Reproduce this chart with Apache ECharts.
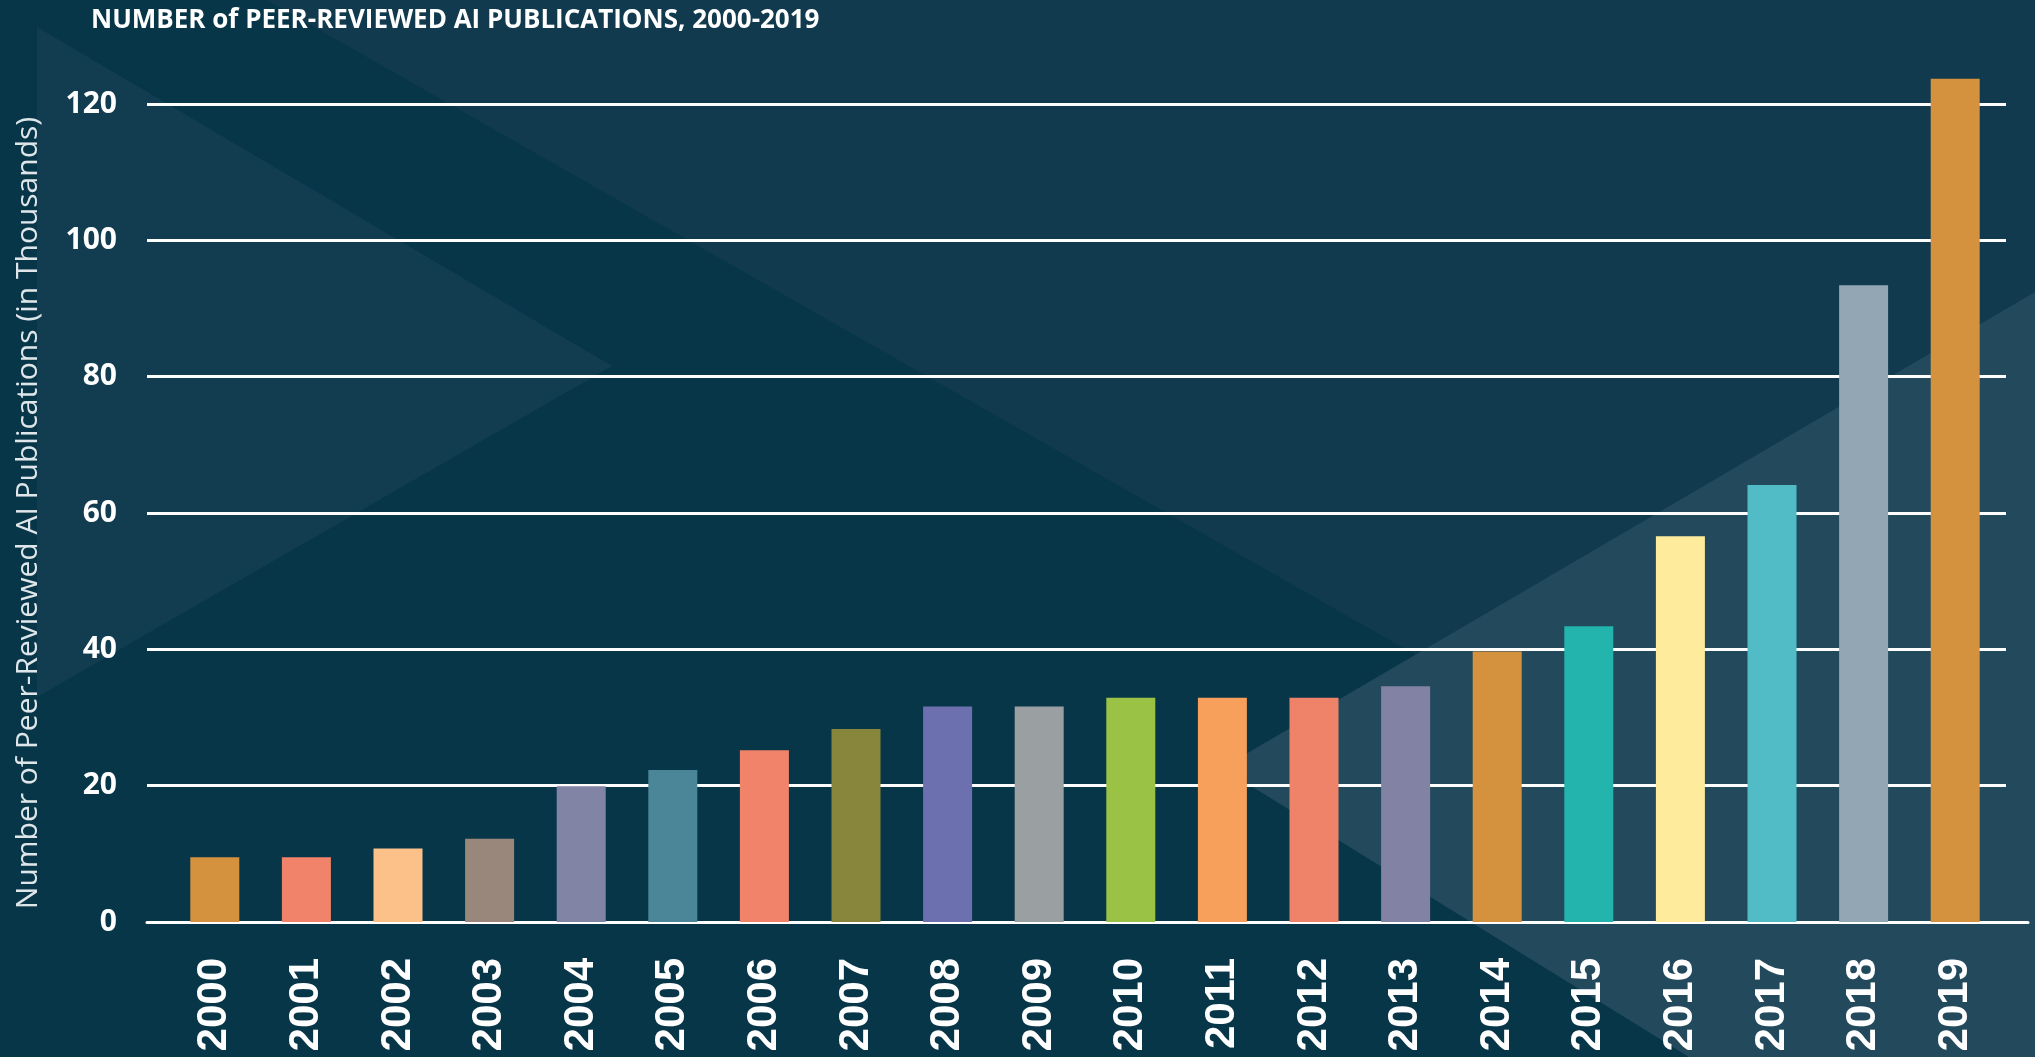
<!DOCTYPE html>
<html>
<head>
<meta charset="utf-8">
<script src="https://cdn.jsdelivr.net/npm/echarts@6/dist/echarts.min.js"></script>
<style>
  html, body { margin: 0; padding: 0; background: #083649; }
  #chart { width: 2035px; height: 1057px; }
</style>
</head>
<body>
<div id="chart"></div>
<script>
const years = ['2000', '2001', '2002', '2003', '2004', '2005', '2006', '2007', '2008', '2009',
  '2010', '2011', '2012', '2013', '2014', '2015', '2016', '2017', '2018', '2019'];
// thousands of publications
const publications = [9.5, 9.5, 10.8, 12.2, 19.9, 22.3, 25.2, 28.3, 31.6, 31.6,
  32.9, 32.9, 32.9, 34.6, 39.7, 43.4, 56.6, 64.1, 93.4, 123.7];
const barColors = ['#d4923f', '#f0836a', '#fcc089', '#9a877c', '#8284a6', '#4a8598', '#f0836a',
  '#88863c', '#6c70ae', '#9a9fa1', '#9ac245', '#f6a05c', '#ef836a', '#8283a4', '#d4923f',
  '#23b4ad', '#feeb9c', '#52bcc6', '#93a6b4', '#d4923f'];
const yTicks = [0, 20, 40, 60, 80, 100, 120];

const chart = echarts.init(document.getElementById('chart'));

const option = {
  backgroundColor: '#083649',
  animation: false,
  title: {
    text: 'NUMBER of PEER-REVIEWED AI PUBLICATIONS, 2000-2019',
    left: 86,
    top: 3,
    textStyle: {
      color: '#fff',
      fontFamily: 'Open Sans',
      fontWeight: 'bold',
      fontSize: 26
    }
  },
  // background shapes
  graphic: [
    { type: 'polygon', z: -10, silent: true,
      shape: { points: [[267, 0], [2035, 0], [2035, 1008]] },
      style: { fill: '#113a4e' } },
    { type: 'polygon', z: -10, silent: true,
      shape: { points: [[37, 27], [612, 366], [37, 697]] },
      style: { fill: '#123d51' } },
    { type: 'polygon', z: -9, silent: true,
      shape: { points: [[1222, 768], [2035, 292], [2035, 1057], [1689, 1057]] },
      style: { fill: '#224a5c' } }
  ],
  grid: [
    // bars
    { left: 169, right: 34, top: 104, bottom: 135, outerBoundsMode: 'none' },
    // grid lines + y labels
    { left: 147, right: 29, top: 104, bottom: 135, outerBoundsMode: 'none' },
    // baseline
    { left: 147, right: 7, top: 104, bottom: 135, outerBoundsMode: 'none' }
  ],
  xAxis: [
    {
      gridIndex: 0,
      type: 'category',
      data: years,
      axisLine: { show: false },
      axisTick: { show: false },
      axisLabel: {
        rotate: 90,
        margin: 36,
        color: '#fff',
        fontFamily: 'Liberation Sans',
        fontWeight: 'bold',
        fontSize: 42
      }
    },
    { gridIndex: 1, type: 'category', data: years, show: false },
    {
      gridIndex: 2,
      type: 'category',
      data: years,
      axisLine: { show: true, lineStyle: { color: '#fff', width: 3 } },
      axisTick: { show: false },
      axisLabel: { show: false }
    }
  ],
  yAxis: [
    { gridIndex: 0, type: 'value', min: 0, max: 120, interval: 20, show: false },
    {
      gridIndex: 1,
      type: 'value',
      min: yTicks[0],
      max: yTicks[yTicks.length - 1],
      interval: 20,
      z: 1,
      name: 'Number of Peer-Reviewed AI Publications (in Thousands)',
      nameLocation: 'middle',
      nameGap: 104,
      nameTextStyle: {
        color: '#dfe6ea',
        fontFamily: 'Open Sans',
        fontSize: 30
      },
      axisLine: { show: false },
      axisTick: { show: false },
      axisLabel: {
        margin: 30,
        color: '#fff',
        fontFamily: 'Open Sans',
        fontWeight: 'bold',
        fontSize: 30
      },
      splitLine: { show: true, lineStyle: { color: '#fff', width: 3 } }
    },
    { gridIndex: 2, type: 'value', min: 0, max: 120, show: false }
  ],
  series: [
    {
      type: 'bar',
      xAxisIndex: 0,
      yAxisIndex: 0,
      clip: false,
      z: 3,
      barWidth: 49,
      data: publications.map((v, i) => ({ value: v, itemStyle: { color: barColors[i] } }))
    }
  ]
};

chart.setOption(option);
</script>
</body>
</html>
